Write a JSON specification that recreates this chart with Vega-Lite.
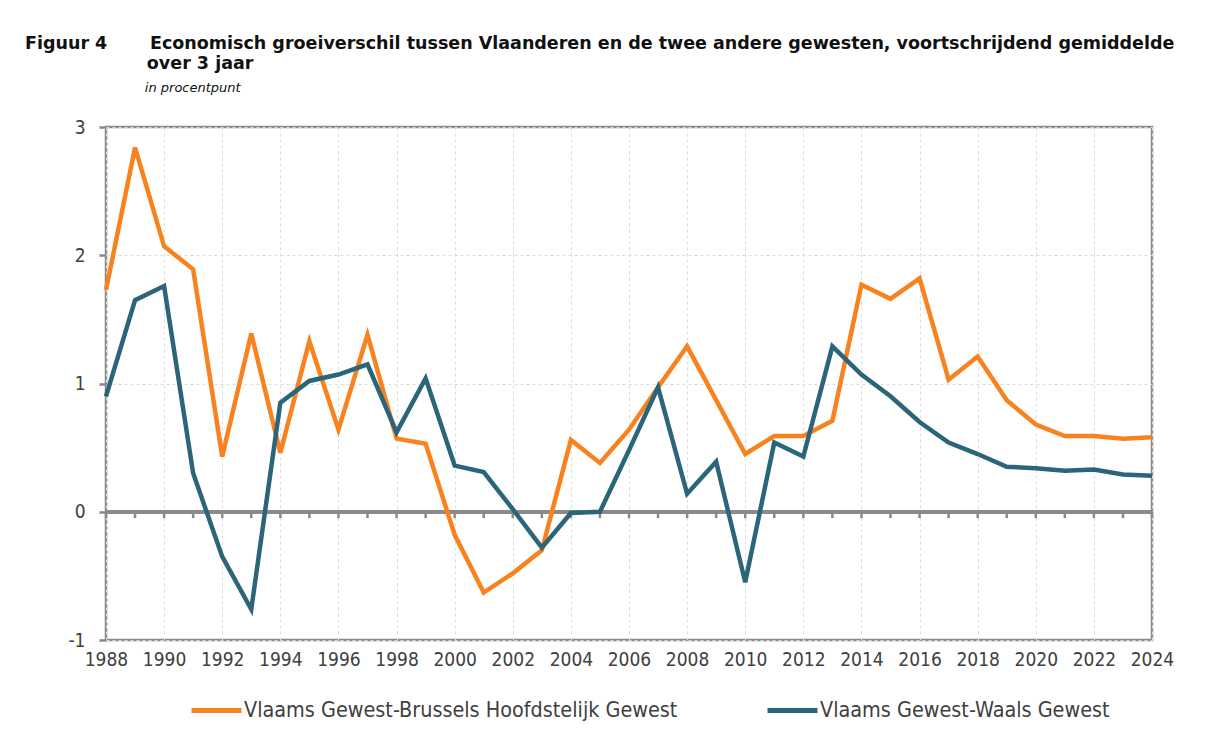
{
  "$schema": "https://vega.github.io/schema/vega-lite/v6.json",
  "width": 1046,
  "height": 513,
  "autosize": {"type": "none"},
  "padding": {"left": 106, "top": 127, "right": 62, "bottom": 95},
  "background": "white",
  "title": {
    "text": ["Figuur 4\u00a0\u00a0\u00a0\u00a0\u00a0\u00a0\u00a0Economisch groeiverschil tussen Vlaanderen en de twee andere gewesten, voortschrijdend gemiddelde", "\u200b\u00a0\u00a0\u00a0\u00a0\u00a0\u00a0\u00a0\u00a0\u00a0\u00a0\u00a0\u00a0\u00a0\u00a0\u00a0\u00a0\u00a0\u00a0\u00a0\u00a0over 3 jaar"],
    "subtitle": "\u200b\u00a0\u00a0\u00a0\u00a0\u00a0\u00a0\u00a0\u00a0\u00a0\u00a0\u00a0\u00a0\u00a0\u00a0\u00a0\u00a0\u00a0\u00a0\u00a0\u00a0\u00a0\u00a0\u00a0\u00a0\u00a0\u00a0\u00a0\u00a0\u00a0in procentpunt",
    "anchor": "start",
    "frame": "group",
    "dx": -81,
    "offset": 23,
    "font": "DejaVu Sans",
    "fontSize": 17.5,
    "fontWeight": "bold",
    "color": "#111111",
    "lineHeight": 20,
    "subtitleFont": "DejaVu Sans",
    "subtitleFontSize": 13,
    "subtitleFontStyle": "italic",
    "subtitleColor": "#111111",
    "subtitlePadding": 10
  },
  "config": {
    "view": {"stroke": "#8a8a8a", "strokeWidth": 2.5},
    "font": "DejaVu Sans Condensed"
  },
  "data": {
    "values": [
      {"year": 1988, "series": "Vlaams Gewest-Brussels Hoofdstelijk Gewest", "value": 1.73},
      {"year": 1989, "series": "Vlaams Gewest-Brussels Hoofdstelijk Gewest", "value": 2.84},
      {"year": 1990, "series": "Vlaams Gewest-Brussels Hoofdstelijk Gewest", "value": 2.07},
      {"year": 1991, "series": "Vlaams Gewest-Brussels Hoofdstelijk Gewest", "value": 1.89},
      {"year": 1992, "series": "Vlaams Gewest-Brussels Hoofdstelijk Gewest", "value": 0.43},
      {"year": 1993, "series": "Vlaams Gewest-Brussels Hoofdstelijk Gewest", "value": 1.39},
      {"year": 1994, "series": "Vlaams Gewest-Brussels Hoofdstelijk Gewest", "value": 0.46},
      {"year": 1995, "series": "Vlaams Gewest-Brussels Hoofdstelijk Gewest", "value": 1.33},
      {"year": 1996, "series": "Vlaams Gewest-Brussels Hoofdstelijk Gewest", "value": 0.64},
      {"year": 1997, "series": "Vlaams Gewest-Brussels Hoofdstelijk Gewest", "value": 1.38},
      {"year": 1998, "series": "Vlaams Gewest-Brussels Hoofdstelijk Gewest", "value": 0.57},
      {"year": 1999, "series": "Vlaams Gewest-Brussels Hoofdstelijk Gewest", "value": 0.53},
      {"year": 2000, "series": "Vlaams Gewest-Brussels Hoofdstelijk Gewest", "value": -0.18},
      {"year": 2001, "series": "Vlaams Gewest-Brussels Hoofdstelijk Gewest", "value": -0.63},
      {"year": 2002, "series": "Vlaams Gewest-Brussels Hoofdstelijk Gewest", "value": -0.48},
      {"year": 2003, "series": "Vlaams Gewest-Brussels Hoofdstelijk Gewest", "value": -0.30},
      {"year": 2004, "series": "Vlaams Gewest-Brussels Hoofdstelijk Gewest", "value": 0.56},
      {"year": 2005, "series": "Vlaams Gewest-Brussels Hoofdstelijk Gewest", "value": 0.38},
      {"year": 2006, "series": "Vlaams Gewest-Brussels Hoofdstelijk Gewest", "value": 0.64},
      {"year": 2007, "series": "Vlaams Gewest-Brussels Hoofdstelijk Gewest", "value": 0.97},
      {"year": 2008, "series": "Vlaams Gewest-Brussels Hoofdstelijk Gewest", "value": 1.29},
      {"year": 2009, "series": "Vlaams Gewest-Brussels Hoofdstelijk Gewest", "value": 0.87},
      {"year": 2010, "series": "Vlaams Gewest-Brussels Hoofdstelijk Gewest", "value": 0.45},
      {"year": 2011, "series": "Vlaams Gewest-Brussels Hoofdstelijk Gewest", "value": 0.59},
      {"year": 2012, "series": "Vlaams Gewest-Brussels Hoofdstelijk Gewest", "value": 0.59},
      {"year": 2013, "series": "Vlaams Gewest-Brussels Hoofdstelijk Gewest", "value": 0.71},
      {"year": 2014, "series": "Vlaams Gewest-Brussels Hoofdstelijk Gewest", "value": 1.77},
      {"year": 2015, "series": "Vlaams Gewest-Brussels Hoofdstelijk Gewest", "value": 1.66},
      {"year": 2016, "series": "Vlaams Gewest-Brussels Hoofdstelijk Gewest", "value": 1.82},
      {"year": 2017, "series": "Vlaams Gewest-Brussels Hoofdstelijk Gewest", "value": 1.03},
      {"year": 2018, "series": "Vlaams Gewest-Brussels Hoofdstelijk Gewest", "value": 1.21},
      {"year": 2019, "series": "Vlaams Gewest-Brussels Hoofdstelijk Gewest", "value": 0.87},
      {"year": 2020, "series": "Vlaams Gewest-Brussels Hoofdstelijk Gewest", "value": 0.68},
      {"year": 2021, "series": "Vlaams Gewest-Brussels Hoofdstelijk Gewest", "value": 0.59},
      {"year": 2022, "series": "Vlaams Gewest-Brussels Hoofdstelijk Gewest", "value": 0.59},
      {"year": 2023, "series": "Vlaams Gewest-Brussels Hoofdstelijk Gewest", "value": 0.57},
      {"year": 2024, "series": "Vlaams Gewest-Brussels Hoofdstelijk Gewest", "value": 0.58},
      {"year": 1988, "series": "Vlaams Gewest-Waals Gewest", "value": 0.90},
      {"year": 1989, "series": "Vlaams Gewest-Waals Gewest", "value": 1.65},
      {"year": 1990, "series": "Vlaams Gewest-Waals Gewest", "value": 1.76},
      {"year": 1991, "series": "Vlaams Gewest-Waals Gewest", "value": 0.30},
      {"year": 1992, "series": "Vlaams Gewest-Waals Gewest", "value": -0.35},
      {"year": 1993, "series": "Vlaams Gewest-Waals Gewest", "value": -0.76},
      {"year": 1994, "series": "Vlaams Gewest-Waals Gewest", "value": 0.85},
      {"year": 1995, "series": "Vlaams Gewest-Waals Gewest", "value": 1.02},
      {"year": 1996, "series": "Vlaams Gewest-Waals Gewest", "value": 1.07},
      {"year": 1997, "series": "Vlaams Gewest-Waals Gewest", "value": 1.15},
      {"year": 1998, "series": "Vlaams Gewest-Waals Gewest", "value": 0.62},
      {"year": 1999, "series": "Vlaams Gewest-Waals Gewest", "value": 1.04},
      {"year": 2000, "series": "Vlaams Gewest-Waals Gewest", "value": 0.36},
      {"year": 2001, "series": "Vlaams Gewest-Waals Gewest", "value": 0.31},
      {"year": 2002, "series": "Vlaams Gewest-Waals Gewest", "value": 0.02},
      {"year": 2003, "series": "Vlaams Gewest-Waals Gewest", "value": -0.28},
      {"year": 2004, "series": "Vlaams Gewest-Waals Gewest", "value": -0.01},
      {"year": 2005, "series": "Vlaams Gewest-Waals Gewest", "value": 0.00},
      {"year": 2006, "series": "Vlaams Gewest-Waals Gewest", "value": 0.48},
      {"year": 2007, "series": "Vlaams Gewest-Waals Gewest", "value": 0.97},
      {"year": 2008, "series": "Vlaams Gewest-Waals Gewest", "value": 0.14},
      {"year": 2009, "series": "Vlaams Gewest-Waals Gewest", "value": 0.39},
      {"year": 2010, "series": "Vlaams Gewest-Waals Gewest", "value": -0.55},
      {"year": 2011, "series": "Vlaams Gewest-Waals Gewest", "value": 0.54},
      {"year": 2012, "series": "Vlaams Gewest-Waals Gewest", "value": 0.43},
      {"year": 2013, "series": "Vlaams Gewest-Waals Gewest", "value": 1.29},
      {"year": 2014, "series": "Vlaams Gewest-Waals Gewest", "value": 1.07},
      {"year": 2015, "series": "Vlaams Gewest-Waals Gewest", "value": 0.90},
      {"year": 2016, "series": "Vlaams Gewest-Waals Gewest", "value": 0.70},
      {"year": 2017, "series": "Vlaams Gewest-Waals Gewest", "value": 0.54},
      {"year": 2018, "series": "Vlaams Gewest-Waals Gewest", "value": 0.45},
      {"year": 2019, "series": "Vlaams Gewest-Waals Gewest", "value": 0.35},
      {"year": 2020, "series": "Vlaams Gewest-Waals Gewest", "value": 0.34},
      {"year": 2021, "series": "Vlaams Gewest-Waals Gewest", "value": 0.32},
      {"year": 2022, "series": "Vlaams Gewest-Waals Gewest", "value": 0.33},
      {"year": 2023, "series": "Vlaams Gewest-Waals Gewest", "value": 0.29},
      {"year": 2024, "series": "Vlaams Gewest-Waals Gewest", "value": 0.28}
    ]
  },
  "layer": [
    {
      "mark": {"type": "rule", "stroke": "#8a8a8a", "strokeWidth": 3},
      "encoding": {"y": {"datum": 0, "type": "quantitative"}}
    },
    {
      "transform": [{"filter": "datum.series === 'Vlaams Gewest-Waals Gewest'"}],
      "mark": {"type": "rule", "stroke": "#8a8a8a", "strokeWidth": 2.5},
      "encoding": {
        "x": {"field": "year", "type": "quantitative"},
        "y": {"datum": 0, "type": "quantitative"},
        "y2": {"datum": -0.05}
      }
    },
    {
      "mark": {"type": "line", "strokeWidth": 4.5, "strokeJoin": "miter"},
      "encoding": {
        "x": {
          "field": "year",
          "type": "quantitative",
          "scale": {"domain": [1988, 2024], "nice": false, "zero": false},
          "axis": {
            "title": null,
            "values": [1988,1989,1990,1991,1992,1993,1994,1995,1996,1997,1998,1999,2000,2001,2002,2003,2004,2005,2006,2007,2008,2009,2010,2011,2012,2013,2014,2015,2016,2017,2018,2019,2020,2021,2022,2023,2024],
            "labelExpr": "datum.value % 2 === 0 ? datum.value + '' : ''",
            "labelFlush": false,
            "domain": false,
            "ticks": false,
            "labelPadding": 10,
            "labelFont": "DejaVu Sans Condensed",
            "labelFontSize": 19,
            "labelColor": "#404040",
            "labelOverlap": false,
            "grid": true,
            "gridColor": "#dcdcdc",
            "gridDash": [3, 3],
            "gridWidth": 1
          }
        },
        "y": {
          "field": "value",
          "type": "quantitative",
          "scale": {"domain": [-1, 3], "nice": false},
          "axis": {
            "title": null,
            "values": [-1, 0, 1, 2, 3],
            "labelExpr": "datum.value + ''",
            "labelFlush": false,
            "domain": false,
            "tickSize": 7,
            "tickWidth": 2.5,
            "tickColor": "#8a8a8a",
            "labelPadding": 14,
            "labelFont": "DejaVu Sans Condensed",
            "labelFontSize": 19,
            "labelColor": "#404040",
            "grid": true,
            "gridColor": "#dcdcdc",
            "gridDash": [3, 3],
            "gridWidth": 1
          }
        },
        "color": {
          "field": "series",
          "type": "nominal",
          "scale": {
            "domain": ["Vlaams Gewest-Brussels Hoofdstelijk Gewest", "Vlaams Gewest-Waals Gewest"],
            "range": ["#F7821E", "#2B657A"]
          },
          "legend": {
            "title": null,
            "orient": "none",
            "legendX": 83,
            "legendY": 556,
            "direction": "horizontal",
            "symbolType": "stroke",
            "symbolSize": 2500,
            "symbolStrokeWidth": 5,
            "labelFont": "DejaVu Sans Condensed",
            "labelFontSize": 21.4,
            "labelColor": "#404040",
            "labelOffset": 0,
            "columnPadding": 79,
            "labelLimit": 700
          }
        }
      }
    }
  ]
}
